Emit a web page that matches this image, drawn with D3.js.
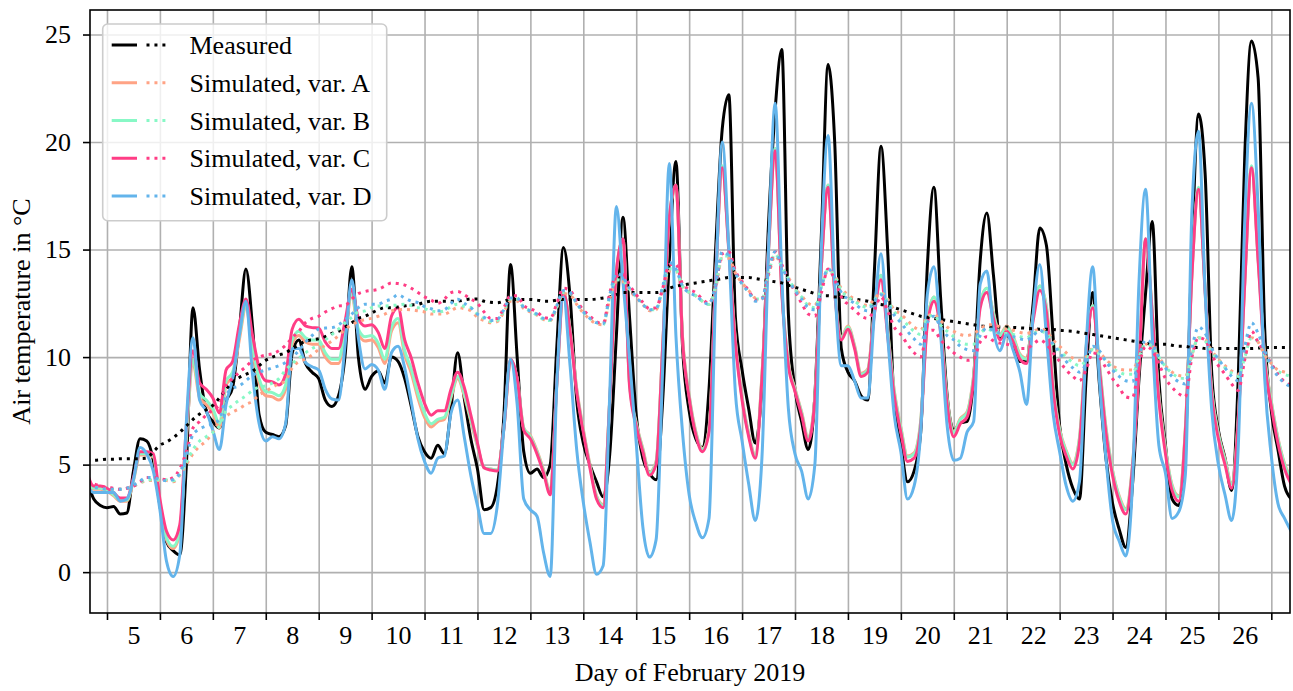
<!DOCTYPE html>
<html><head><meta charset="utf-8">
<script src="https://cdn.jsdelivr.net/npm/d3@7"></script>
<style>
body{margin:0;background:#fff}
svg{display:block}
text{font-family:"Liberation Serif","Times New Roman",serif;fill:#000}
</style>
</head><body>
<svg id="chart" width="1293" height="691"></svg>
<script>
// time grid: 3-hourly samples starting Feb 4, t = day + fraction
const gridStart = 4.625, gridStep = 0.125;
const dayLabels = [5,6,7,8,9,10,11,12,13,14,15,16,17,18,19,20,21,22,23,24,25,26];
const dayBounds = [5,6,7,8,9,10,11,12,13,14,15,16,17,18,19,20,21,22,23,24,25,26,27];
const yTicks = [0,5,10,15,20,25];
const seriesNames = ["Measured","Simulated, var. A","Simulated, var. B","Simulated, var. C","Simulated, var. D"];
const seriesColors = ["#000000","#FFA385","#88F8C6","#FF3D85","#63B4EB"];

// solid lines: air temperature
const measured = [4.2,3.4,3.1,
3.0,3.05,2.7,2.75,4.7,6.2,6.1,5.2,
3.1,1.4,1.0,0.8,5.0,12.3,9.4,7.5,
7.0,6.7,7.95,8.6,11.2,14.1,11.4,7.3,
6.5,6.4,6.3,6.8,10.2,10.8,9.7,9.3,
9.0,8.0,7.7,8.2,10.1,14.2,10.0,8.5,
9.1,9.35,8.8,10.0,9.8,9.0,7.7,6.3,
5.6,5.3,5.9,5.5,7.6,10.2,8.1,6.2,
4.8,2.9,3.0,4.0,7.3,14.3,10.0,5.6,
4.6,4.8,4.4,5.0,10.5,15.1,12.8,8.0,
6.0,5.0,4.2,3.5,5.5,11.0,16.5,11.8,
7.3,5.3,4.6,4.3,8.0,14.5,19.1,10.5,
7.5,6.2,5.8,8.5,15.0,20.6,22.2,11.8,
9.4,7.6,6.0,8.7,16.2,21.5,24.3,12.0,
8.5,7.0,5.7,8.2,15.8,23.6,20.0,10.4,
9.3,8.9,8.2,8.0,14.0,19.8,15.0,7.8,
5.9,4.2,4.7,6.5,14.2,17.9,12.8,8.2,
6.6,6.95,7.0,9.0,14.5,16.7,13.8,10.9,
11.0,10.6,9.8,9.85,12.5,16.0,15.2,11.0,
6.8,5.0,3.9,3.4,9.0,13.0,8.8,5.3,
3.2,2.0,1.15,4.0,9.0,13.0,16.3,9.0,
5.9,3.4,3.1,5.8,15.0,21.3,18.5,9.2,
6.6,5.3,3.8,9.0,19.5,24.7,23.0,11.3,
7.5,5.7,4.0,3.4];

const simA = [4.45,3.85,3.85,
3.75,3.55,3.3,3.3,4.25,5.45,5.45,5.35,
3.1,1.5,1.1,1.8,6.2,9.7,8.1,7.8,
7.4,6.7,8.7,9.1,10.8,12.3,10.3,8.8,
8.2,8.15,8.0,8.5,10.6,11.0,10.7,10.6,
10.6,10.0,9.7,9.7,11.1,12.9,11.1,10.75,
10.8,10.45,9.7,11.2,11.6,10.1,9.25,8.1,
7.2,6.75,7.0,7.1,8.1,9.0,8.2,7.0,
5.85,4.85,4.8,4.75,6.7,9.8,9.0,6.7,
6.35,5.65,4.75,3.75,8.8,12.9,11.3,8.55,
6.65,5.0,3.55,3.15,8.0,13.9,15.4,8.75,
6.95,5.75,4.65,5.15,10.5,16.4,17.9,10.95,
8.25,6.55,5.75,6.65,13.6,18.8,15.05,10.75,
8.15,6.45,5.45,9.15,15.0,19.7,13.15,9.75,
8.55,7.45,6.25,8.15,14.3,18.0,13.15,10.95,
11.45,10.55,9.25,9.45,12.15,13.8,11.25,8.45,
6.75,5.4,5.55,7.05,11.65,12.8,11.45,8.05,
6.55,7.15,7.45,9.15,12.5,13.2,12.05,11.05,
11.45,10.95,10.15,9.95,11.95,13.3,12.35,8.75,
6.65,5.65,5.05,6.25,10.45,12.4,9.75,6.75,
4.75,3.55,2.95,4.95,9.6,15.4,12.15,8.25,
5.75,4.05,3.55,6.65,13.9,17.8,13.15,8.45,
6.45,5.25,4.15,7.15,13.6,18.8,14.65,10.05,
7.95,6.25,5.05,4.35];

const simB = [4.5,3.9,3.9,
3.8,3.6,3.35,3.35,4.3,5.5,5.5,5.4,
3.2,1.6,1.2,1.9,6.4,9.9,8.3,8.0,
7.6,6.9,8.9,9.3,11.0,12.4,10.5,9.0,
8.4,8.35,8.2,8.7,10.8,11.2,10.9,10.8,
10.8,10.2,9.9,9.9,11.3,13.0,11.3,10.95,
11.0,10.65,9.9,11.4,11.8,10.3,9.45,8.3,
7.4,6.9,7.1,7.2,8.2,9.1,8.3,7.1,
5.9,4.85,4.8,4.75,6.7,9.9,9.0,6.7,
6.3,5.6,4.7,3.7,8.8,13.0,11.3,8.5,
6.6,4.95,3.5,3.1,8.0,14.0,15.5,8.7,
6.9,5.7,4.6,5.1,10.5,16.5,18.0,10.9,
8.2,6.5,5.7,6.6,13.6,18.9,15.0,10.7,
8.1,6.4,5.4,9.1,15.0,19.7,13.1,9.7,
8.5,7.4,6.2,8.1,14.3,18.0,13.1,10.9,
11.4,10.5,9.2,9.4,12.1,13.8,11.2,8.4,
6.7,5.35,5.5,7.0,11.6,12.8,11.4,8.0,
6.5,7.1,7.4,9.1,12.5,13.2,12.0,11.0,
11.4,10.9,10.1,9.9,11.9,13.3,12.3,8.7,
6.6,5.6,5.0,6.2,10.4,12.4,9.7,6.7,
4.7,3.5,2.9,4.9,9.6,15.5,12.1,8.2,
5.7,4.0,3.5,6.6,13.9,17.9,13.1,8.4,
6.4,5.2,4.1,7.1,13.6,18.9,14.6,10.0,
7.9,6.2,5.0,4.3];

const simC = [4.6,4.0,4.0,
3.9,3.7,3.45,3.45,4.4,5.6,5.6,5.5,
3.4,1.9,1.5,2.2,6.8,10.3,8.8,8.5,
8.1,7.4,9.4,9.8,11.5,12.7,11.0,9.5,
8.9,8.85,8.7,9.2,11.3,11.76,11.45,11.37,
11.35,10.7,10.4,10.4,11.7,13.15,11.8,11.45,
11.5,11.15,10.4,11.9,12.3,10.8,9.95,8.8,
7.85,7.3,7.5,7.5,8.5,9.3,8.6,7.3,
6.0,4.85,4.75,4.7,6.7,9.9,9.0,6.6,
6.2,5.5,4.6,3.6,8.8,13.0,11.2,8.4,
6.5,4.85,3.4,3.0,8.0,14.0,15.5,8.6,
6.8,5.6,4.5,5.0,10.5,16.5,18.0,10.8,
8.1,6.4,5.6,6.5,13.6,18.8,14.9,10.6,
8.0,6.3,5.3,9.0,15.0,19.6,13.0,9.6,
8.4,7.3,6.1,8.0,14.3,17.9,13.0,10.8,
11.3,10.4,9.1,9.3,12.0,13.6,11.0,8.2,
6.5,5.15,5.3,6.8,11.5,12.6,11.2,7.8,
6.3,6.9,7.2,8.9,12.3,13.0,11.8,10.8,
11.2,10.7,9.9,9.7,11.7,13.1,12.1,8.5,
6.4,5.4,4.8,6.0,10.3,12.3,9.5,6.5,
4.5,3.3,2.7,4.8,9.5,15.5,12.0,8.0,
5.5,3.8,3.3,6.5,13.8,17.8,13.0,8.2,
6.2,5.0,3.9,7.0,13.5,18.8,14.5,9.8,
7.7,6.0,4.8,4.1];

const simD = [4.0,3.7,3.7,
3.7,3.7,3.3,3.4,4.3,5.8,5.5,4.7,
2.9,0.5,-0.2,0.8,7.0,10.9,8.0,7.5,
6.6,5.7,7.8,9.0,11.0,12.6,9.2,6.9,
6.1,6.3,6.2,6.9,10.4,10.4,9.75,9.55,
9.4,8.5,8.05,8.0,10.6,13.6,10.9,9.45,
9.65,9.4,8.5,10.2,10.5,9.5,7.9,6.2,
5.15,4.6,5.3,5.4,7.4,8.0,6.3,4.5,
3.1,1.8,1.8,3.1,6.7,9.9,7.8,3.4,
2.9,2.6,0.9,-0.2,8.8,12.8,9.6,5.7,
3.25,1.4,-0.1,0.3,8.3,17.0,13.5,9.9,
6.0,2.1,0.7,1.5,9.5,19.0,11.0,6.5,
3.6,2.3,1.6,2.5,13.0,20.0,15.0,8.3,
6.1,4.1,2.4,5.3,15.0,21.8,13.8,7.6,
5.5,4.7,3.4,5.0,15.2,20.3,13.4,9.6,
9.6,8.9,8.1,8.1,12.0,14.8,11.0,7.3,
5.6,3.4,4.0,6.5,12.9,14.2,11.1,6.8,
5.2,5.3,6.5,7.0,13.4,14.0,11.3,10.3,
11.1,10.3,9.3,7.8,12.0,14.3,11.0,7.4,
5.6,4.0,3.3,4.2,10.5,14.2,9.0,5.3,
2.4,1.45,0.75,4.0,13.5,17.8,11.0,5.9,
4.6,2.5,2.8,4.5,16.8,20.5,13.0,7.5,
5.0,3.6,2.4,5.8,16.5,21.8,17.0,9.0,
5.4,3.2,2.5,1.9];

// dotted lines
const measuredDot = [5.2,5.2,5.22,
5.25,5.25,5.27,5.27,5.27,5.28,5.3,5.6,
5.9,6.05,6.25,6.5,6.8,7.1,7.35,7.55,
7.75,8.1,8.5,8.85,9.05,9.2,9.35,9.6,
9.85,10.0,10.1,10.2,10.4,10.55,10.75,10.8,
10.85,10.95,11.1,11.2,11.4,11.6,11.8,11.9,
12.05,12.2,12.3,12.3,12.33,12.38,12.42,12.45,
12.55,12.6,12.6,12.6,12.6,12.6,12.65,12.7,
12.7,12.6,12.55,12.53,12.6,12.68,12.68,12.68,
12.68,12.65,12.6,12.6,12.65,12.68,12.68,12.68,
12.68,12.68,12.7,12.75,12.8,12.9,13.0,13.0,
13.0,13.0,13.0,13.0,13.05,13.2,13.3,13.35,
13.4,13.45,13.5,13.55,13.6,13.65,13.7,13.7,
13.7,13.7,13.65,13.6,13.55,13.5,13.45,13.35,
13.25,13.15,13.05,12.95,12.85,12.85,12.8,12.8,
12.75,12.7,12.65,12.6,12.5,12.45,12.4,12.3,
12.2,12.1,12.0,11.9,11.85,11.8,11.75,11.7,
11.65,11.6,11.55,11.5,11.45,11.42,11.4,11.4,
11.4,11.38,11.36,11.34,11.32,11.3,11.3,11.28,
11.25,11.22,11.2,11.15,11.1,11.05,11.0,10.95,
10.9,10.85,10.8,10.75,10.7,10.65,10.6,10.6,
10.6,10.55,10.5,10.5,10.45,10.45,10.4,10.4,
10.4,10.4,10.4,10.4,10.4,10.4,10.42,10.45,
10.45,10.45,10.45,10.45];

const simADot = [4.0,3.95,3.9,
3.85,3.85,3.85,3.9,4.0,4.15,4.25,4.26,
4.26,4.26,4.2,4.5,5.0,5.5,5.85,6.1,
6.5,7.0,7.25,7.45,7.6,7.8,7.95,8.25,
8.4,8.6,8.75,8.9,9.5,9.8,9.9,10.1,
10.35,10.55,10.75,11.0,11.3,11.5,11.65,11.75,
11.8,11.9,12.0,12.15,12.2,12.22,12.2,12.15,
12.1,12.0,12.0,12.0,12.15,12.3,12.25,12.15,
11.85,11.7,11.6,11.65,12.1,12.6,12.6,12.25,
12.1,11.95,11.75,11.7,12.3,12.95,12.9,12.45,
12.05,11.75,11.55,11.5,12.7,13.5,13.5,13.1,
12.75,12.45,12.15,12.2,13.1,14.0,14.0,13.3,
13.0,12.85,12.6,12.45,13.2,14.6,14.6,13.9,
13.45,13.1,12.75,12.75,13.8,14.7,14.2,13.7,
13.2,12.85,12.5,12.4,13.3,14.0,13.8,13.2,
12.9,12.7,12.5,12.4,12.7,13.0,12.7,12.2,
12.0,11.7,11.4,11.25,11.9,12.0,11.7,11.4,
11.2,11.05,11.0,11.1,11.3,11.5,11.5,11.4,
11.3,11.25,11.15,11.1,11.2,11.3,11.2,10.8,
10.5,10.2,9.95,9.85,10.0,10.4,10.2,9.9,
9.6,9.45,9.4,9.4,10.0,10.6,10.5,10.0,
9.6,9.3,9.15,9.1,10.1,10.9,10.8,10.3,
9.9,9.6,9.35,9.2,10.0,10.9,10.7,10.1,
9.7,9.4,9.3,9.2];

const simBDot = [4.0,3.95,3.9,
3.85,3.85,3.85,3.9,4.0,4.15,4.3,4.3,
4.3,4.3,4.25,4.55,5.1,5.7,6.1,6.3,
6.5,6.8,7.5,7.75,8.0,8.2,8.45,8.6,
8.66,8.8,9.0,9.4,9.7,9.95,10.2,10.4,
10.55,10.8,11.05,11.3,11.6,11.85,12.1,12.15,
12.3,12.38,12.38,12.4,12.42,12.46,12.4,12.3,
12.25,12.15,12.1,12.15,12.35,12.46,12.35,12.3,
12.0,11.8,11.65,11.7,12.15,12.7,12.7,12.3,
12.15,11.95,11.75,11.7,12.35,13.0,12.95,12.5,
12.1,11.8,11.6,11.5,12.8,13.6,13.55,13.15,
12.8,12.5,12.2,12.2,13.2,14.1,14.05,13.3,
13.0,12.85,12.6,12.45,13.3,14.7,14.7,13.9,
13.45,13.05,12.7,12.7,13.9,14.8,14.2,13.65,
13.15,12.8,12.4,12.3,13.3,14.05,13.75,13.1,
12.8,12.6,12.4,12.3,12.65,12.95,12.6,12.1,
11.8,11.5,11.2,11.05,11.8,11.95,11.5,11.2,
10.95,10.7,10.6,10.6,11.1,11.3,11.2,11.1,
11.1,11.05,10.95,10.9,11.1,11.2,11.1,10.6,
10.3,10.0,9.75,9.6,9.85,10.35,10.15,9.85,
9.5,9.3,9.2,9.2,10.0,10.6,10.5,10.0,
9.55,9.25,9.05,9.0,10.1,10.9,10.75,10.25,
9.85,9.5,9.25,9.1,10.0,10.9,10.7,10.1,
9.65,9.35,9.2,9.1];

const simCDot = [4.2,4.1,4.0,
3.95,3.9,3.85,3.9,4.0,4.2,4.4,4.4,
4.35,4.3,4.4,4.8,5.6,6.7,7.0,7.3,
7.55,7.8,8.7,9.0,9.3,9.55,9.85,10.0,
10.1,10.15,10.3,10.55,10.9,11.2,11.6,11.8,
11.9,12.1,12.25,12.38,12.4,12.7,12.95,13.05,
13.1,13.15,13.3,13.45,13.42,13.35,13.2,13.0,
12.8,12.65,12.5,12.7,13.0,13.05,12.9,12.7,
12.5,12.1,11.8,11.8,12.3,12.85,12.85,12.4,
12.25,12.1,11.85,11.8,12.5,13.2,13.1,12.6,
12.2,11.9,11.65,11.55,13.0,13.75,13.85,13.35,
12.9,12.55,12.25,12.3,13.2,14.3,14.3,13.4,
13.15,13.0,12.7,12.5,13.3,14.8,14.9,14.0,
13.5,13.1,12.65,12.7,13.9,14.9,14.3,13.6,
13.05,12.5,12.0,11.9,13.0,14.1,13.6,12.8,
12.45,12.2,11.9,11.8,12.2,12.8,12.15,11.4,
11.05,10.6,10.2,10.0,11.2,11.25,10.8,10.5,
10.2,10.0,9.85,9.9,10.7,10.95,10.75,10.65,
10.6,10.5,10.4,10.4,10.6,10.8,10.6,10.2,
9.8,9.4,9.1,8.9,9.4,10.2,10.0,9.5,
9.0,8.6,8.15,8.1,9.6,10.5,10.3,9.7,
9.0,8.6,8.3,8.15,10.0,10.9,10.8,10.1,
9.6,9.2,8.75,8.45,9.9,11.2,10.7,10.2,
9.7,9.2,8.85,8.7];

const simDDot = [4.0,3.95,3.9,
3.85,3.85,3.85,3.9,4.05,4.25,4.4,4.4,
4.3,4.25,4.3,4.6,5.4,6.4,6.65,6.8,
6.9,7.1,8.2,8.55,8.66,8.9,9.15,9.3,
9.4,9.5,9.6,9.75,10.0,10.3,10.7,11.0,
11.3,11.35,11.37,11.5,11.75,12.0,12.3,12.46,
12.46,12.46,12.6,12.7,12.9,12.75,12.6,12.53,
12.35,12.25,12.15,12.2,12.5,12.69,12.5,12.3,
12.0,11.85,11.7,11.75,12.2,12.75,12.75,12.3,
12.15,12.0,11.8,11.75,12.4,13.1,13.0,12.5,
12.1,11.8,11.6,11.55,12.9,13.9,13.7,13.2,
12.8,12.45,12.2,12.25,13.3,14.4,14.1,13.3,
13.0,12.85,12.6,12.45,13.4,14.9,14.7,13.9,
13.4,13.0,12.6,12.7,14.0,14.9,14.2,13.6,
13.1,12.7,12.3,12.2,13.3,14.1,13.7,13.0,
12.7,12.5,12.25,12.15,12.6,12.9,12.5,11.95,
11.6,11.2,10.85,10.6,11.6,11.9,11.4,11.0,
10.8,10.5,10.35,10.3,11.0,11.35,11.25,11.1,
11.0,10.95,10.85,10.8,11.0,11.25,11.0,10.6,
10.2,9.8,9.5,9.3,9.7,10.5,10.3,9.8,
9.4,9.1,8.9,8.85,10.0,10.8,10.6,10.0,
9.5,9.1,8.85,8.75,10.4,11.4,11.1,10.4,
9.9,9.5,9.1,8.9,10.5,11.6,11.1,10.3,
9.6,9.1,8.8,8.6];

const solidSeries = [measured, simA, simB, simC, simD];
const dottedSeries = [measuredDot, simADot, simBDot, simCDot, simDDot];
const times = measured.map((_, i) => gridStart + i * gridStep);

const svg = d3.select("#chart");
const W = 1293, H = 691;
const FS = 26;
const m = {left: 90, right: 1290, top: 10, bottom: 613};
const x = d3.scaleLinear().domain([4.679, 27.353]).range([m.left, m.right]);
const y = d3.scaleLinear().domain([-1.9, 26.14]).range([m.bottom, m.top]);

svg.append("rect").attr("width", W).attr("height", H).attr("fill", "#fff");

svg.append("defs").append("clipPath").attr("id", "clip")
  .append("rect").attr("x", m.left).attr("y", m.top)
  .attr("width", m.right - m.left).attr("height", m.bottom - m.top);

// grid
const gridG = svg.append("g");
gridG.append("g").attr("transform", `translate(0,${m.bottom})`)
  .call(d3.axisBottom(x).tickValues(dayBounds.filter(d => x(d) < m.right)).tickSize(-(m.bottom - m.top)).tickFormat(""))
  .call(g => g.select(".domain").remove())
  .call(g => g.selectAll("line").attr("stroke", "#b0b0b0").attr("stroke-width", 1.6));
gridG.append("g").attr("transform", `translate(${m.left},0)`)
  .call(d3.axisLeft(y).tickValues(yTicks).tickSize(-(m.right - m.left)).tickFormat(""))
  .call(g => g.select(".domain").remove())
  .call(g => g.selectAll("line").attr("stroke", "#b0b0b0").attr("stroke-width", 1.6));

const line = d3.line().curve(d3.curveMonotoneX).x((d, i) => x(times[i])).y(d => y(d));
const plotG = svg.append("g").attr("clip-path", "url(#clip)");
solidSeries.forEach((s, k) => {
  plotG.append("path").datum(s).attr("d", line).attr("fill", "none")
    .attr("stroke", seriesColors[k]).attr("stroke-width", 3).attr("stroke-linejoin", "round");
});
dottedSeries.forEach((s, k) => {
  plotG.append("path").datum(s).attr("d", line).attr("fill", "none")
    .attr("stroke", seriesColors[k]).attr("stroke-width", 3)
    .attr("stroke-dasharray", "3,4.95");
});

// axes
const xAx = svg.append("g").attr("transform", `translate(0,${m.bottom})`)
  .call(d3.axisBottom(x).tickValues(dayBounds.filter(d => x(d) < m.right)).tickSize(7).tickFormat(""));
xAx.select(".domain").remove();
xAx.selectAll("line").attr("stroke", "#000").attr("stroke-width", 1.6);

const xLab = svg.append("g").attr("transform", `translate(0,${m.bottom})`)
  .call(d3.axisBottom(x).tickValues(dayLabels.map(d => d + 0.5)).tickSize(0).tickPadding(13)
    .tickFormat((d, i) => dayLabels[i]));
xLab.select(".domain").remove();
xLab.selectAll("text").attr("font-size", FS).attr("font-family", "Liberation Serif").attr("fill", "#000");

const yAx = svg.append("g").attr("transform", `translate(${m.left},0)`)
  .call(d3.axisLeft(y).tickValues(yTicks).tickSize(7).tickPadding(12));
yAx.select(".domain").remove();
yAx.selectAll("line").attr("stroke", "#000").attr("stroke-width", 1.6);
yAx.selectAll("text").attr("font-size", FS).attr("font-family", "Liberation Serif").attr("fill", "#000");

svg.append("rect").attr("x", m.left).attr("y", m.top)
  .attr("width", m.right - m.left).attr("height", m.bottom - m.top)
  .attr("fill", "none").attr("stroke", "#000").attr("stroke-width", 1.6);

svg.append("text").attr("x", (m.left + m.right) / 2).attr("y", 681)
  .attr("text-anchor", "middle").attr("font-size", FS).text("Day of February 2019");
svg.append("text").attr("transform", `translate(30,${(m.top + m.bottom) / 2}) rotate(-90)`)
  .attr("text-anchor", "middle").attr("font-size", FS).text("Air temperature in °C");

// legend
const lg = svg.append("g");
lg.append("rect").attr("x", 102.7).attr("y", 24).attr("width", 284).attr("height", 196.7)
  .attr("rx", 5).attr("fill", "#fff").attr("fill-opacity", 0.8)
  .attr("stroke", "#cccccc").attr("stroke-width", 1.6);
seriesNames.forEach((name, k) => {
  const yy = 45 + k * 37.75;
  lg.append("line").attr("x1", 111.7).attr("x2", 137).attr("y1", yy).attr("y2", yy)
    .attr("stroke", seriesColors[k]).attr("stroke-width", 3);
  lg.append("line").attr("x1", 146.5).attr("x2", 168).attr("y1", yy).attr("y2", yy)
    .attr("stroke", seriesColors[k]).attr("stroke-width", 3).attr("stroke-dasharray", "3,4.95");
  lg.append("text").attr("x", 189.5).attr("y", yy).attr("dy", "0.35em")
    .attr("font-size", FS).text(name);
});
</script>
</body></html>
